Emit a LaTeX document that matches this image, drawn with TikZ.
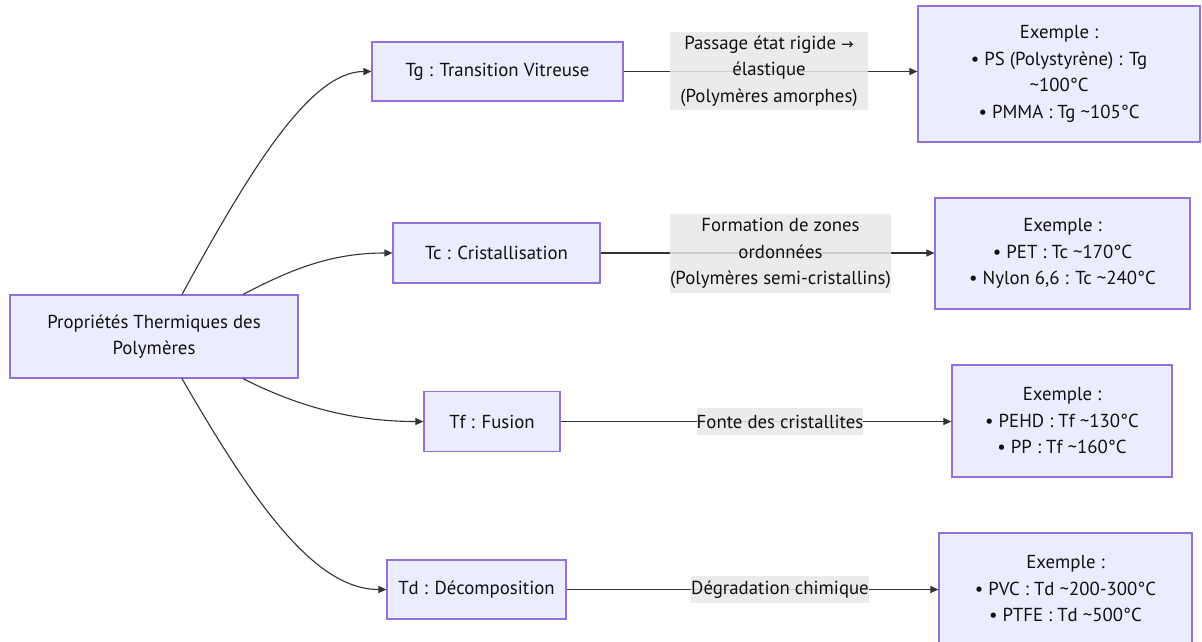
\documentclass[tikz,border=0pt]{standalone}
\usepackage{fontspec}
\setmainfont{PT Sans}
\newfontfamily\symfont{DejaVu Sans}
\usetikzlibrary{arrows.meta,calc}
\definecolor{boxfill}{HTML}{ECECFF}
\definecolor{boxdraw}{HTML}{9370DB}
\definecolor{labfill}{HTML}{E8E8E8}
\definecolor{edge}{HTML}{333333}
\definecolor{txt}{HTML}{111111}
\tikzset{
  box/.style={draw=boxdraw, fill=boxfill, line width=1.2pt, inner sep=0pt, align=center, text=txt, font=\fontsize{18.8}{26.5}\selectfont},
  lab/.style={fill=labfill, fill opacity=0.85, text opacity=1, inner sep=0pt, align=center, text=txt, font=\fontsize{18.8}{26.5}\selectfont},
  conn/.style={draw=edge, line width=1.1pt},
  arr/.style={conn, -{Triangle[length=8pt,width=7pt]}},
}
\begin{document}
\begin{tikzpicture}[x=1pt,y=-1pt]
\useasboundingbox[fill=white] (0,0) rectangle (1202,642);
% main
\node[box, minimum width=288pt, minimum height=83pt] (main) at (154,336.5) {Propriétés Thermiques des\\Polymères};
% second level
\node[box, minimum width=251pt, minimum height=59pt] (tg) at (497.5,71.5) {Tg : Transition Vitreuse};
\node[box, minimum width=207pt, minimum height=60pt] (tc) at (496.5,253) {Tc : Cristallisation};
\node[box, minimum width=136pt, minimum height=60pt] (tf) at (492,421.5) {Tf : Fusion};
\node[box, minimum width=179pt, minimum height=59pt] (td) at (476.5,589.5) {Td : Décomposition};
% examples
\node[box, minimum width=282pt, minimum height=136pt] (ex1) at (1059,74) {Exemple :\\• PS (Polystyrène) : Tg\\\textasciitilde100°C\\• PMMA : Tg \textasciitilde105°C};
\node[box, minimum width=255pt, minimum height=111pt] (ex2) at (1062.5,253.5) {Exemple :\\• PET : Tc \textasciitilde170°C\\• Nylon 6,6 : Tc \textasciitilde240°C};
\node[box, minimum width=220pt, minimum height=112pt] (ex3) at (1062,421) {Exemple :\\• PEHD : Tf \textasciitilde130°C\\• PP : Tf \textasciitilde160°C};
\node[box, minimum width=253pt, minimum height=112pt] (ex4) at (1065.5,589) {Exemple :\\• PVC : Td \textasciitilde200-300°C\\• PTFE : Td \textasciitilde500°C};
% connectors from main
\draw[arr] ([xshift=28pt]main.north) .. controls (250,170) and (310,71.5) .. (tg.west);
\draw[arr] ([xshift=89pt]main.north) .. controls (290,270) and (330,253) .. (tc.west);
\draw[arr] ([xshift=89pt]main.south) .. controls (295,405) and (350,421.5) .. (tf.west);
\draw[arr] ([xshift=28pt]main.south) .. controls (255,505) and (315,589.5) .. (td.west);
% connectors to examples
\draw[arr] (tg.east) -- (tg.east -| ex1.west);
\draw[arr] (tc.east) -- (tc.east -| ex2.west);
\draw[arr] (tf.east) -- (tf.east -| ex3.west);
\draw[arr] (td.east) -- (td.east -| ex4.west);
% edge labels
\node[lab, minimum width=198pt, minimum height=78pt] (l1) at (769,71) {Passage état rigide {\symfont\fontsize{15}{26.5}\selectfont →}\\élastique\\(Polymères amorphes)};
\node[lab, minimum width=221pt, minimum height=79pt] (l2) at (780.5,253.5) {Formation de zones\\ordonnées\\(Polymères semi-cristallins)};
\node[lab, minimum width=166pt, minimum height=27pt] (l3) at (780,421.5) {Fonte des cristallites};
\node[lab, minimum width=174pt, minimum height=27pt] (l4) at (780,589.5) {Dégradation chimique};
\end{tikzpicture}
\end{document}
